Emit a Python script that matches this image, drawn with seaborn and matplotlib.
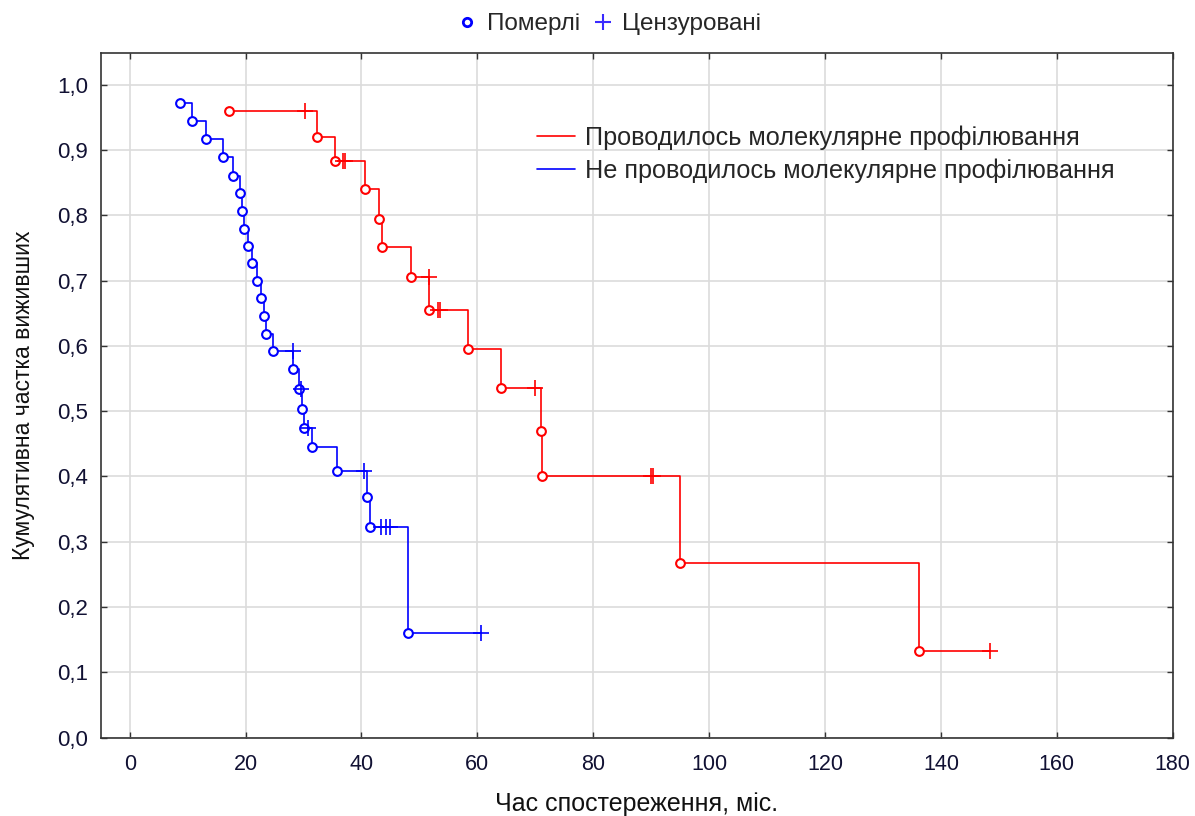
import numpy as np
import pandas as pd
import matplotlib
matplotlib.use("Agg")
import matplotlib.pyplot as plt
from matplotlib.lines import Line2D
import seaborn as sns

# ---- data ----
# Group: molecular profiling performed (red)
red_event_t = [17.1, 32.3, 35.4, 40.6, 43.0, 43.6, 48.6, 51.7, 58.3, 64.0, 71.0, 71.1, 94.9, 136.2]
red_event_s = [0.960, 0.921, 0.884, 0.841, 0.794, 0.751, 0.706, 0.655, 0.595, 0.535, 0.470, 0.401, 0.268, 0.133]
red_cens_t = [30.3, 36.8, 37.2, 51.7, 53.2, 53.5, 69.9, 89.9, 90.4, 148.4]
red_cens_s = [0.960, 0.884, 0.884, 0.706, 0.655, 0.655, 0.535, 0.401, 0.401, 0.133]

# Group: no molecular profiling (blue)
blue_event_t = [8.75, 10.75, 13.1, 16.1, 17.9, 19.0, 19.45, 19.75, 20.4, 21.1, 22.0, 22.7,
                23.2, 23.5, 24.8, 28.1, 29.2, 29.75, 30.0, 31.4, 35.8, 40.9, 41.4, 48.05]
blue_event_s = [0.972, 0.945, 0.917, 0.889, 0.861, 0.834, 0.807, 0.780, 0.753, 0.727, 0.700, 0.673,
                0.646, 0.619, 0.592, 0.564, 0.534, 0.504, 0.474, 0.445, 0.409, 0.368, 0.323, 0.160]
blue_cens_t = [28.1, 29.5, 30.8, 40.5, 43.3, 44.3, 45.0, 60.6]
blue_cens_s = [0.592, 0.534, 0.474, 0.409, 0.323, 0.323, 0.323, 0.160]

group_labels = ["Проводилось молекулярне профілювання", "Не проводилось молекулярне профілювання"]
marker_labels = ["Померлі", "Цензуровані"]
x_ticks = [0, 20, 40, 60, 80, 100, 120, 140, 160, 180]
y_ticks = [0.0, 0.1, 0.2, 0.3, 0.4, 0.5, 0.6, 0.7, 0.8, 0.9, 1.0]
x_label = "Час спостереження, міс."
y_label = "Кумулятивна частка виживших"

RED = "#ff0000"
BLUE = "#0000ff"

sns.set_theme(style="whitegrid")
plt.rcParams["font.family"] = ["Liberation Sans", "DejaVu Sans"]

fig = plt.figure(figsize=(11.95, 8.16), dpi=100)
ax = fig.add_axes([0.0843, 0.0962, 0.8970, 0.8385])


def curve_frame(ev_t, ev_s, ce_t):
    # step path from first event to last observation
    last_t = max(max(ev_t), max(ce_t))
    xs = list(ev_t) + [last_t]
    ys = list(ev_s) + [ev_s[-1]]
    return pd.DataFrame({"t": xs, "s": ys})


for ev_t, ev_s, ce_t, ce_s, col, lab in [
    (red_event_t, red_event_s, red_cens_t, red_cens_s, RED, group_labels[0]),
    (blue_event_t, blue_event_s, blue_cens_t, blue_cens_s, BLUE, group_labels[1]),
]:
    df = curve_frame(ev_t, ev_s, ce_t)
    sns.lineplot(data=df, x="t", y="s", ax=ax, color=col, lw=1.2,
                 drawstyle="steps-post", estimator=None, sort=False, legend=False)
    ax.plot(ev_t, ev_s, linestyle="none", marker="o", ms=6.3, mfc="white",
            mec=col, mew=1.5, zorder=4)
    ax.plot(ce_t, ce_s, linestyle="none", marker="+", ms=11, mec=col,
            mew=1.2, zorder=4)

ax.set_xlim(-5, 180)
ax.set_ylim(0, 1.0486)
ax.set_xticks(x_ticks)
ax.set_yticks(y_ticks)
ax.set_xticklabels([str(v) for v in x_ticks])
ax.set_yticklabels([f"{v:.1f}".replace(".", ",") for v in y_ticks])

ax.grid(True, color="#dcdcdc", lw=1.2)
ax.set_axisbelow(True)
for sp in ax.spines.values():
    sp.set_color("#333333")
    sp.set_linewidth(1.2)
    sp.set_visible(True)

ax.tick_params(axis="both", which="both", direction="in", length=4.5, width=1,
               color="#333333", top=True, right=True, bottom=True, left=True,
               labeltop=False, labelright=False)
ax.tick_params(axis="x", labelsize=15.5, pad=12, labelcolor="#111133")
ax.tick_params(axis="y", labelsize=16, pad=9, labelcolor="#111133")

ax.set_xlabel(x_label, fontsize=18, color="#111111")
ax.set_ylabel(y_label, fontsize=16.5, color="#111111")
ax.xaxis.set_label_coords(0.5, -0.08)
ax.yaxis.set_label_coords(-0.061, 0.5)

# inner legend (groups)
h_groups = [Line2D([], [], color=RED, lw=1.2), Line2D([], [], color=BLUE, lw=1.2)]
leg = ax.legend(h_groups, group_labels, loc="upper left", bbox_to_anchor=(0.407, 0.894),
                frameon=False, fontsize=18.2, handlelength=1.5, handletextpad=0.4,
                labelspacing=0.33, borderpad=0, borderaxespad=0)

# top legend (marker meaning)
h_marks = [Line2D([], [], linestyle="none", marker="o", ms=6, mfc="white", mec=BLUE, mew=2),
           Line2D([], [], linestyle="none", marker="+", ms=11, mec="#3a2aff", mew=1.5)]
fig.legend(h_marks, marker_labels, loc="center", bbox_to_anchor=(0.511, 0.970), ncol=2,
           frameon=False, fontsize=17.5, handlelength=0.6, handletextpad=0.5,
           columnspacing=0.66, borderpad=0)

fig.savefig("out.png", dpi=100)
